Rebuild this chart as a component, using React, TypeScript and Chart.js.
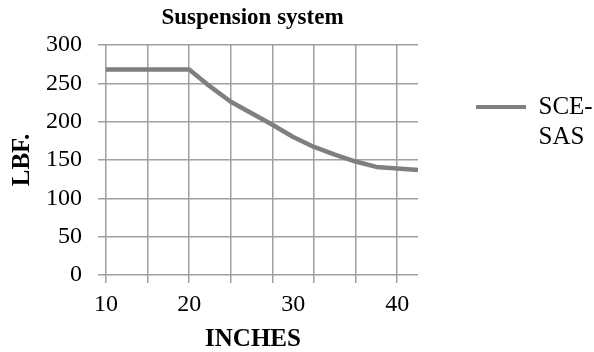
import React, { useEffect, useRef } from 'react';
import { Chart, registerables } from 'chart.js';

Chart.register(...registerables);

// ---- data ----
const CHART_TITLE = 'Suspension system';
const X_TITLE = 'INCHES';
const Y_TITLE = 'LBF.';
const SERIES_LABEL = 'SCE-SAS';
// category positions along the x axis (half-gridline steps); only some carry a printed label
const X_LABELS = ['10', '', '', '', '20', '', '', '', '', '30', '', '', '', '', '40', ''];
const SERIES_VALUES = [268, 268, 268, 268, 268, 246, 226, 211, 196, 180, 167, 157, 148, 141, 139, 137];
const Y_MIN = 0;
const Y_MAX = 300;
const Y_STEP = 50;

export default function App() {
  const ref = useRef<HTMLCanvasElement>(null);

  useEffect(() => {
    const canvas = ref.current;
    if (!canvas) return;
    const GRID = '#a0a0a0';
    const LINE = '#7f7f7f';
    const CLEAR = 'rgba(0,0,0,0)';
    const FONT = '"Liberation Serif", "Times New Roman", serif';
    Chart.defaults.font.family = FONT;
    Chart.defaults.color = '#000';

    // centre the chart title and x-axis title slightly left of the plot centre, as in the reference
    const titleShift = {
      id: 'titleShift',
      afterLayout(chart: any) {
        const t = chart.titleBlock;
        if (t) {
          t.left -= 9.5;
          t.right -= 9.5;
        }
        const xs = chart.scales.x;
        xs.left -= 9;
        xs.right -= 9;
      },
    };

    const evenOnly = (c: any) => (c.index % 2 === 0 ? GRID : CLEAR);

    const chart = new Chart(canvas, {
      type: 'line',
      data: {
        labels: X_LABELS,
        datasets: [
          {
            label: SERIES_LABEL,
            data: SERIES_VALUES,
            borderColor: LINE,
            backgroundColor: LINE,
            borderWidth: 4.5,
            pointRadius: 0,
            tension: 0,
            fill: false,
            clip: false as any,
            borderJoinStyle: 'round',
          },
        ],
      },
      options: {
        responsive: false,
        animation: false,
        devicePixelRatio: 1,
        events: [],
        layout: { padding: 0 },
        plugins: {
          title: {
            display: true,
            text: CHART_TITLE,
            fullSize: false,
            color: '#000',
            font: { family: FONT, size: 23, weight: 'bold', lineHeight: 1 },
            padding: { top: 6.2, bottom: 15.8 },
          },
          legend: {
            position: 'right',
            align: 'start',
            maxWidth: 176,
            title: {
              display: true,
              text: ' ',
              font: { size: 10, lineHeight: 1 },
              padding: { top: 26.5, bottom: 0 },
            },
            labels: {
              color: '#000',
              font: { family: FONT, size: 25, lineHeight: 1.2 },
              boxWidth: 50,
              boxHeight: 4,
              padding: 58,
              generateLabels: (ch: any) =>
                ch.data.datasets.map((ds: any, i: number) => ({
                  text: String(ds.label).split(/(?<=-)/),
                  fillStyle: ds.borderColor,
                  strokeStyle: ds.borderColor,
                  lineWidth: 0,
                  hidden: false,
                  datasetIndex: i,
                  fontColor: '#000',
                })),
            },
          },
          tooltip: { enabled: false },
        },
        scales: {
          x: {
            type: 'category',
            offset: false,
            border: { display: false },
            grid: { color: evenOnly, tickColor: evenOnly, lineWidth: 1.5, tickLength: 8 },
            ticks: {
              autoSkip: false,
              maxRotation: 0,
              minRotation: 0,
              padding: 7.6,
              color: '#000',
              font: { family: FONT, size: 24, lineHeight: 1.2 },
            },
            title: {
              display: true,
              text: X_TITLE,
              color: '#000',
              font: { family: FONT, size: 25, weight: 'bold', lineHeight: 1 },
              padding: 0,
            },
          },
          y: {
            min: Y_MIN,
            max: Y_MAX,
            border: { display: false },
            grid: { color: GRID, tickColor: GRID, lineWidth: 1.5, tickLength: 8 },
            ticks: {
              stepSize: Y_STEP,
              padding: 16,
              color: '#000',
              font: { family: FONT, size: 24, lineHeight: 1.2 },
            },
            title: {
              display: true,
              text: Y_TITLE,
              color: '#000',
              font: { family: FONT, size: 25, weight: 'bold', lineHeight: '10px' as any },
              padding: { top: 18, bottom: 2 },
            },
          },
        },
      } as any,
      plugins: [titleShift],
    });
    return () => chart.destroy();
  }, []);

  return (
    <div style={{ position: 'absolute', left: 0, top: 0, width: 594, height: 352 }}>
      <canvas ref={ref} width={594} height={352} style={{ display: 'block' }} />
    </div>
  );
}
